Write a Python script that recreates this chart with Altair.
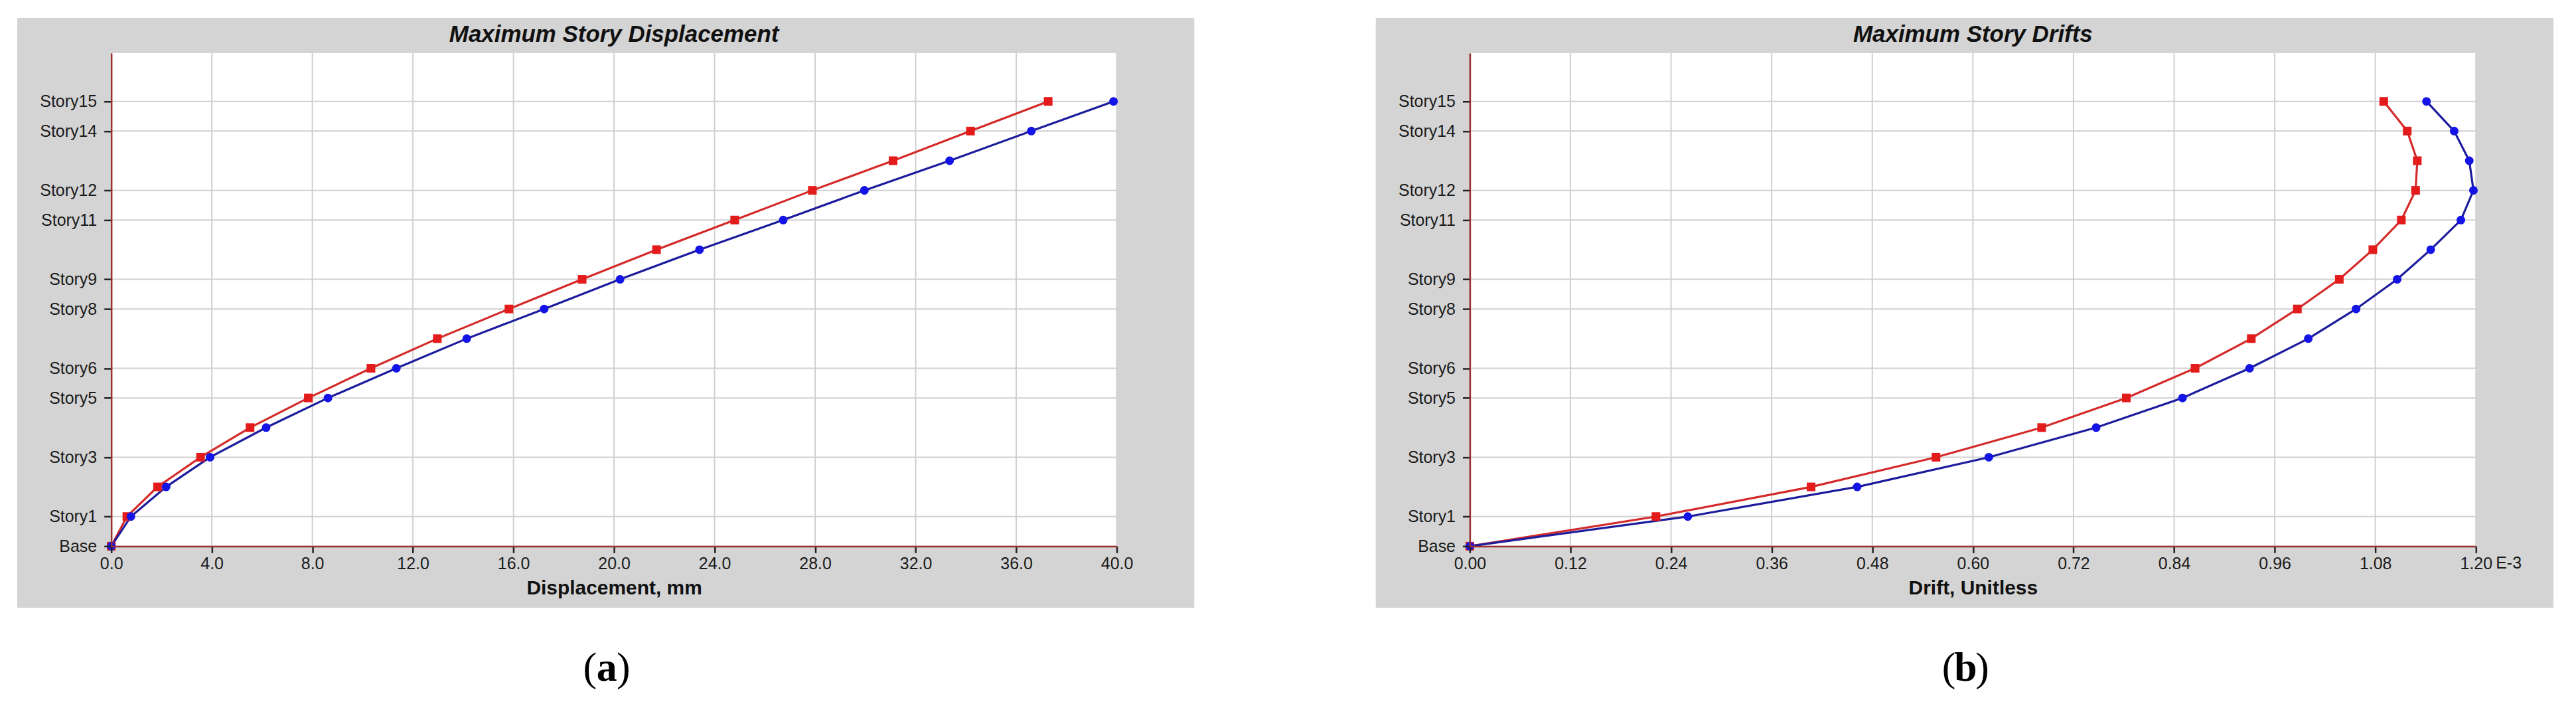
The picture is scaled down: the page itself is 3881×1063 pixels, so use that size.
import altair as alt
import pandas as pd

# ---------------- data ----------------
stories = ["Base"] + [f"Story{i}" for i in range(1, 16)]
levels = list(range(16))

disp_red = [0, 0.62, 1.84, 3.55, 5.52, 7.84, 10.33, 12.97, 15.82, 18.73,
            21.69, 24.80, 27.89, 31.10, 34.18, 37.27]
disp_blue = [0, 0.78, 2.18, 3.93, 6.16, 8.62, 11.34, 14.14, 17.22, 20.24,
             23.40, 26.73, 29.96, 33.35, 36.60, 39.87]
drift_red = [0, 0.222, 0.407, 0.556, 0.682, 0.783, 0.865, 0.932, 0.987, 1.037,
             1.077, 1.111, 1.128, 1.130, 1.118, 1.090]
drift_blue = [0, 0.260, 0.462, 0.619, 0.747, 0.850, 0.930, 1.000, 1.057, 1.106,
              1.146, 1.182, 1.197, 1.192, 1.174, 1.141]

y_tick_levels = [0, 1, 3, 5, 6, 8, 9, 11, 12, 14, 15]
disp_ticks = [0, 4, 8, 12, 16, 20, 24, 28, 32, 36, 40]
drift_ticks = [0, 0.12, 0.24, 0.36, 0.48, 0.60, 0.72, 0.84, 0.96, 1.08, 1.20]

series_names = ["Red", "Blue"]
series_colors_line = ["#d42a2a", "#1c1c9c"]
series_colors_pt = ["#e31b1b", "#1414e6"]
series_shapes = ["square", "circle"]

Y_MAX = 16.63
W_L, W_R, H = 1518, 1519, 744
FONT = "Liberation Sans"


def panel(red, blue, ticks, x_max, fmt, x_title, title, caption, W, extra_label=None):
    df = pd.DataFrame({
        "level": levels + levels,
        "story": stories + stories,
        "value": red + blue,
        "series": ["Red"] * 16 + ["Blue"] * 16,
    })
    one = pd.DataFrame({"k": [0]})
    xgrid = pd.DataFrame({"value": ticks})
    ygrid = pd.DataFrame({"level": y_tick_levels})

    x_enc = alt.X(
        "value:Q",
        scale=alt.Scale(domain=[0, x_max], nice=False, zero=True),
        axis=alt.Axis(
            values=ticks, format=fmt, title=x_title, grid=False, zindex=1,
            domainColor="#9c3030", domainWidth=2.5, tickColor="#222222",
            tickWidth=2.5, tickSize=10, labelFont=FONT, labelFontSize=25,
            labelColor="#1a1a1a", labelPadding=4, labelFlush=False,
            titleFont=FONT, titleFontSize=30, titleFontWeight="bold",
            titleColor="#111111", titlePadding=9,
        ),
    )
    y_enc = alt.Y(
        "level:Q",
        scale=alt.Scale(domain=[0, Y_MAX], nice=False, zero=True),
        axis=alt.Axis(
            values=y_tick_levels,
            labelExpr="datum.value == 0 ? 'Base' : 'Story' + datum.value",
            title=None, grid=False, zindex=1,
            domainColor="#9c3030", domainWidth=2.5, tickColor="#222222",
            tickWidth=2.5, tickSize=11, labelFont=FONT, labelFontSize=25,
            labelColor="#1a1a1a", labelPadding=11, labelFlush=False,
        ),
    )

    gray = alt.Chart(one).mark_rect(color="#d4d4d4").encode(
        x=alt.value(-142), x2=alt.value(W + 117),
        y=alt.value(-53), y2=alt.value(H + 93))
    white = alt.Chart(one).mark_rect(color="#ffffff").encode(
        x=alt.value(0), x2=alt.value(W), y=alt.value(0), y2=alt.value(H))
    vgrid = alt.Chart(xgrid).mark_rule(color="#d0d0d0", strokeWidth=2).encode(
        x=x_enc, y=alt.value(0), y2=alt.value(H))
    hgrid = alt.Chart(ygrid).mark_rule(color="#d0d0d0", strokeWidth=2).encode(
        y=y_enc, x=alt.value(0), x2=alt.value(W))

    lines = alt.Chart(df).mark_line(strokeWidth=3.2).encode(
        x=x_enc, y=y_enc,
        color=alt.Color("series:N", scale=alt.Scale(domain=series_names,
                        range=series_colors_line), legend=None),
        detail="series:N",
        order=alt.Order("level:Q"),
    )
    pts = alt.Chart(df).mark_point(filled=True, opacity=1, size=170).encode(
        x=x_enc, y=y_enc,
        fill=alt.Fill("series:N", scale=alt.Scale(domain=series_names,
                      range=series_colors_pt), legend=None),
        shape=alt.Shape("series:N", scale=alt.Scale(domain=series_names,
                        range=series_shapes), legend=None),
    )
    ttl = alt.Chart(one).mark_text(
        text=title, font=FONT, fontSize=35, fontWeight="bold", fontStyle="italic",
        color="#111111", baseline="middle", align="center").encode(
        x=alt.value(W / 2), y=alt.value(-28))

    cx = W / 2 - 11
    cy = H + 184
    cap_open = alt.Chart(one).mark_text(
        text="(", font="Liberation Serif", fontSize=62, color="#000000",
        baseline="middle", align="right").encode(
        x=alt.value(cx - 15), y=alt.value(cy))
    cap_mid = alt.Chart(one).mark_text(
        text=caption, font="Liberation Serif", fontSize=62, fontWeight="bold",
        color="#000000", baseline="middle", align="center").encode(
        x=alt.value(cx), y=alt.value(cy))
    cap_close = alt.Chart(one).mark_text(
        text=")", font="Liberation Serif", fontSize=62, color="#000000",
        baseline="middle", align="left").encode(
        x=alt.value(cx + 15), y=alt.value(cy))

    layers = [gray, white, vgrid, hgrid, lines, pts, ttl, cap_open, cap_mid, cap_close]
    if extra_label:
        layers.append(alt.Chart(one).mark_text(
            text=extra_label, font=FONT, fontSize=25, color="#1a1a1a",
            baseline="top", align="left").encode(
            x=alt.value(W + 30), y=alt.value(H + 14)))
    return alt.layer(*layers).properties(width=W, height=H)


left = panel(disp_red, disp_blue, disp_ticks, 40, ".1f", "Displacement, mm",
             "Maximum Story Displacement", "a", W_L)
right = panel(drift_red, drift_blue, drift_ticks, 1.2, ".2f", "Drift, Unitless",
              "Maximum Story Drifts", "b", W_R, extra_label="E-3")

chart = alt.hconcat(left, right, spacing=533, bounds="flush").properties(
    padding={"left": 18, "top": 18, "right": 26, "bottom": 0},
    background="#ffffff",
).configure_view(stroke=None).resolve_scale(x="independent", color="independent",
                                            fill="independent", shape="independent")

chart.save("out.html", embed_options={"renderer": "svg", "actions": False})
